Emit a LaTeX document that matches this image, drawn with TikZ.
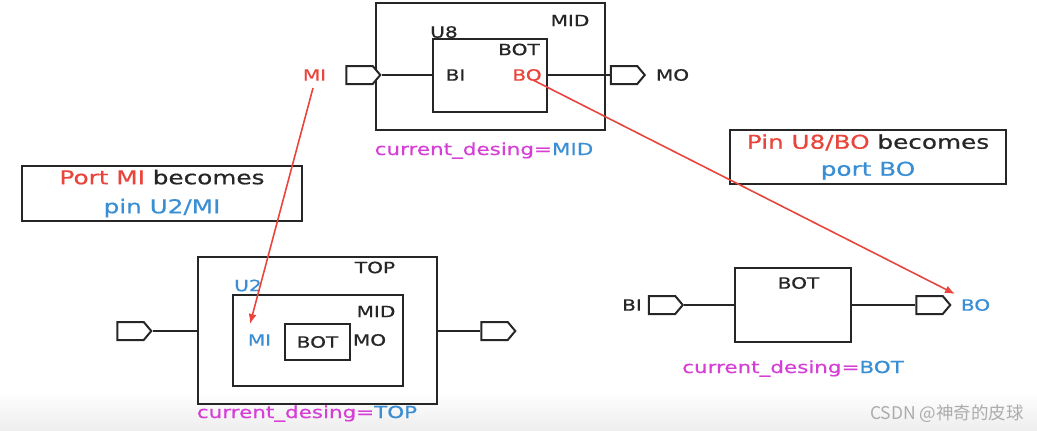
\documentclass[tikz,border=0pt]{standalone}
\usepackage{fontspec}
\setmainfont[FakeStretch=1.3,FakeBold=0.6]{DejaVu Sans}
\newfontfamily\cjk{Noto Sans CJK SC}
\usetikzlibrary{shapes.symbols,arrows.meta}
\definecolor{rd}{HTML}{E8453C}
\definecolor{bl}{HTML}{3A8ED4}
\definecolor{mg}{HTML}{D63FD6}
\definecolor{ln}{HTML}{262626}
\tikzset{
  box/.style={draw=ln, line width=2.2pt, inner sep=0pt},
  wire/.style={draw=ln, line width=1.7pt},
  port/.style={signal, signal to=east, draw=ln, line width=2pt, minimum width=34pt, minimum height=18pt, inner sep=0pt, signal pointer angle=100, fill=white},
  lbl/.style={font=\fontsize{15.5}{18}\selectfont, inner sep=0pt, text=ln},
  cur/.style={font=\fontsize{16.5}{20}\selectfont, inner sep=0pt, anchor=base, text=mg},
  call/.style={draw=ln, line width=2pt, inner sep=0pt, align=center, text=ln},
  redarr/.style={draw=rd, line width=1.6pt, -{Latex[length=10pt,width=8pt]}},
}
\begin{document}
\begin{tikzpicture}[x=1pt,y=-1pt]
\useasboundingbox (0,0) rectangle (1037,431);
\shade[top color=white, bottom color=gray!14] (0,392) rectangle (1037,431);

% ---------- top: MID ----------
\node[box, minimum width=229pt, minimum height=127pt] (mid) at (490.5,66.5) {};
\node[box, minimum width=114pt, minimum height=73pt] (u8) at (490,75.5) {};
\node[lbl] (midl) at (570,20.5) {MID};
\node[lbl] (u8l) at (444,32) {U8};
\node[lbl] (botl) at (519,49.5) {BOT};
\node[lbl] (bil) at (455.5,75) {BI};
\node[lbl, text=rd] (bored) at (527,75) {BO};
\node[lbl, text=rd] (mired) at (314.5,75) {MI};
\node[lbl] (mol) at (672.5,75) {MO};
\node[port] (pmi) at (359.5,75) {};
\node[port] (pmo) at (624,75) {};
\draw[wire] (pmi.east) -- (pmi.east -| u8.west);
\draw[wire] (pmo.west -| u8.east) -- (pmo.west);
\node[cur] (curmid) at (484,155) {current\_desing=\textcolor{bl}{MID}};

% ---------- callouts ----------
\node[call, minimum width=280pt, minimum height=55pt, font=\fontsize{19}{29}\selectfont] (c1) at (162,193.5)
  {\textcolor{rd}{Port MI} becomes\\\textcolor{bl}{pin U2/MI}};
\node[call, minimum width=276pt, minimum height=54pt, font=\fontsize{19}{27}\selectfont] (c2) at (868,157)
  {\textcolor{rd}{Pin U8/BO} becomes\\\textcolor{bl}{port BO}};

% ---------- bottom left: TOP ----------
\node[box, minimum width=239pt, minimum height=147pt] (top) at (317.5,330.5) {};
\node[box, minimum width=170pt, minimum height=91pt] (u2) at (318,340.5) {};
\node[box, minimum width=65pt, minimum height=36pt, lbl] (bot2) at (317.5,342) {BOT};
\node[lbl] (topl) at (375,267.5) {TOP};
\node[lbl, text=bl] (u2l) at (248,285.5) {U2};
\node[lbl] (mid2l) at (376,311.5) {MID};
\node[lbl, text=bl] (miblue) at (259.5,340) {MI};
\node[lbl] (mo2l) at (369.5,340) {MO};
\node[port] (ptl) at (130.5,331) {};
\node[port] (ptr) at (494.5,331) {};
\draw[wire] (ptl.east) -- (ptl.east -| top.west);
\draw[wire] (ptr.west -| top.east) -- (ptr.west);
\node[cur] (curtop) at (307,418) {current\_desing=\textcolor{bl}{TOP}};

% ---------- bottom right: BOT ----------
\node[box, minimum width=116pt, minimum height=74pt] (bot3) at (793,305) {};
\node[lbl] (bot3l) at (798.5,283) {BOT};
\node[port] (pbi) at (662,305) {};
\node[port] (pbo) at (929.5,305) {};
\node[lbl] (bi3l) at (632,305) {BI};
\node[lbl, text=bl] (boblue) at (975.5,305) {BO};
\draw[wire] (pbi.east) -- (bot3.west |- pbi.east);
\draw[wire] (bot3.east |- pbo.west) -- (pbo.west);
\node[cur] (curbot) at (793,373) {current\_desing=\textcolor{bl}{BOT}};

% ---------- red arrows ----------
\coordinate (a1s) at (313,88);
\coordinate (a1e) at (250,324);
\coordinate (a2s) at (533,80);
\coordinate (a2e) at (955,294);
\draw[redarr] (a1s) -- (a1e);
\draw[redarr] (a2s) -- (a2e);

% watermark
\node[font=\cjk\fontsize{17.5}{20}\selectfont, text=gray!65, anchor=base, inner sep=0pt] (wm) at (947,419) {CSDN @神奇的皮球};
\end{tikzpicture}
\end{document}
